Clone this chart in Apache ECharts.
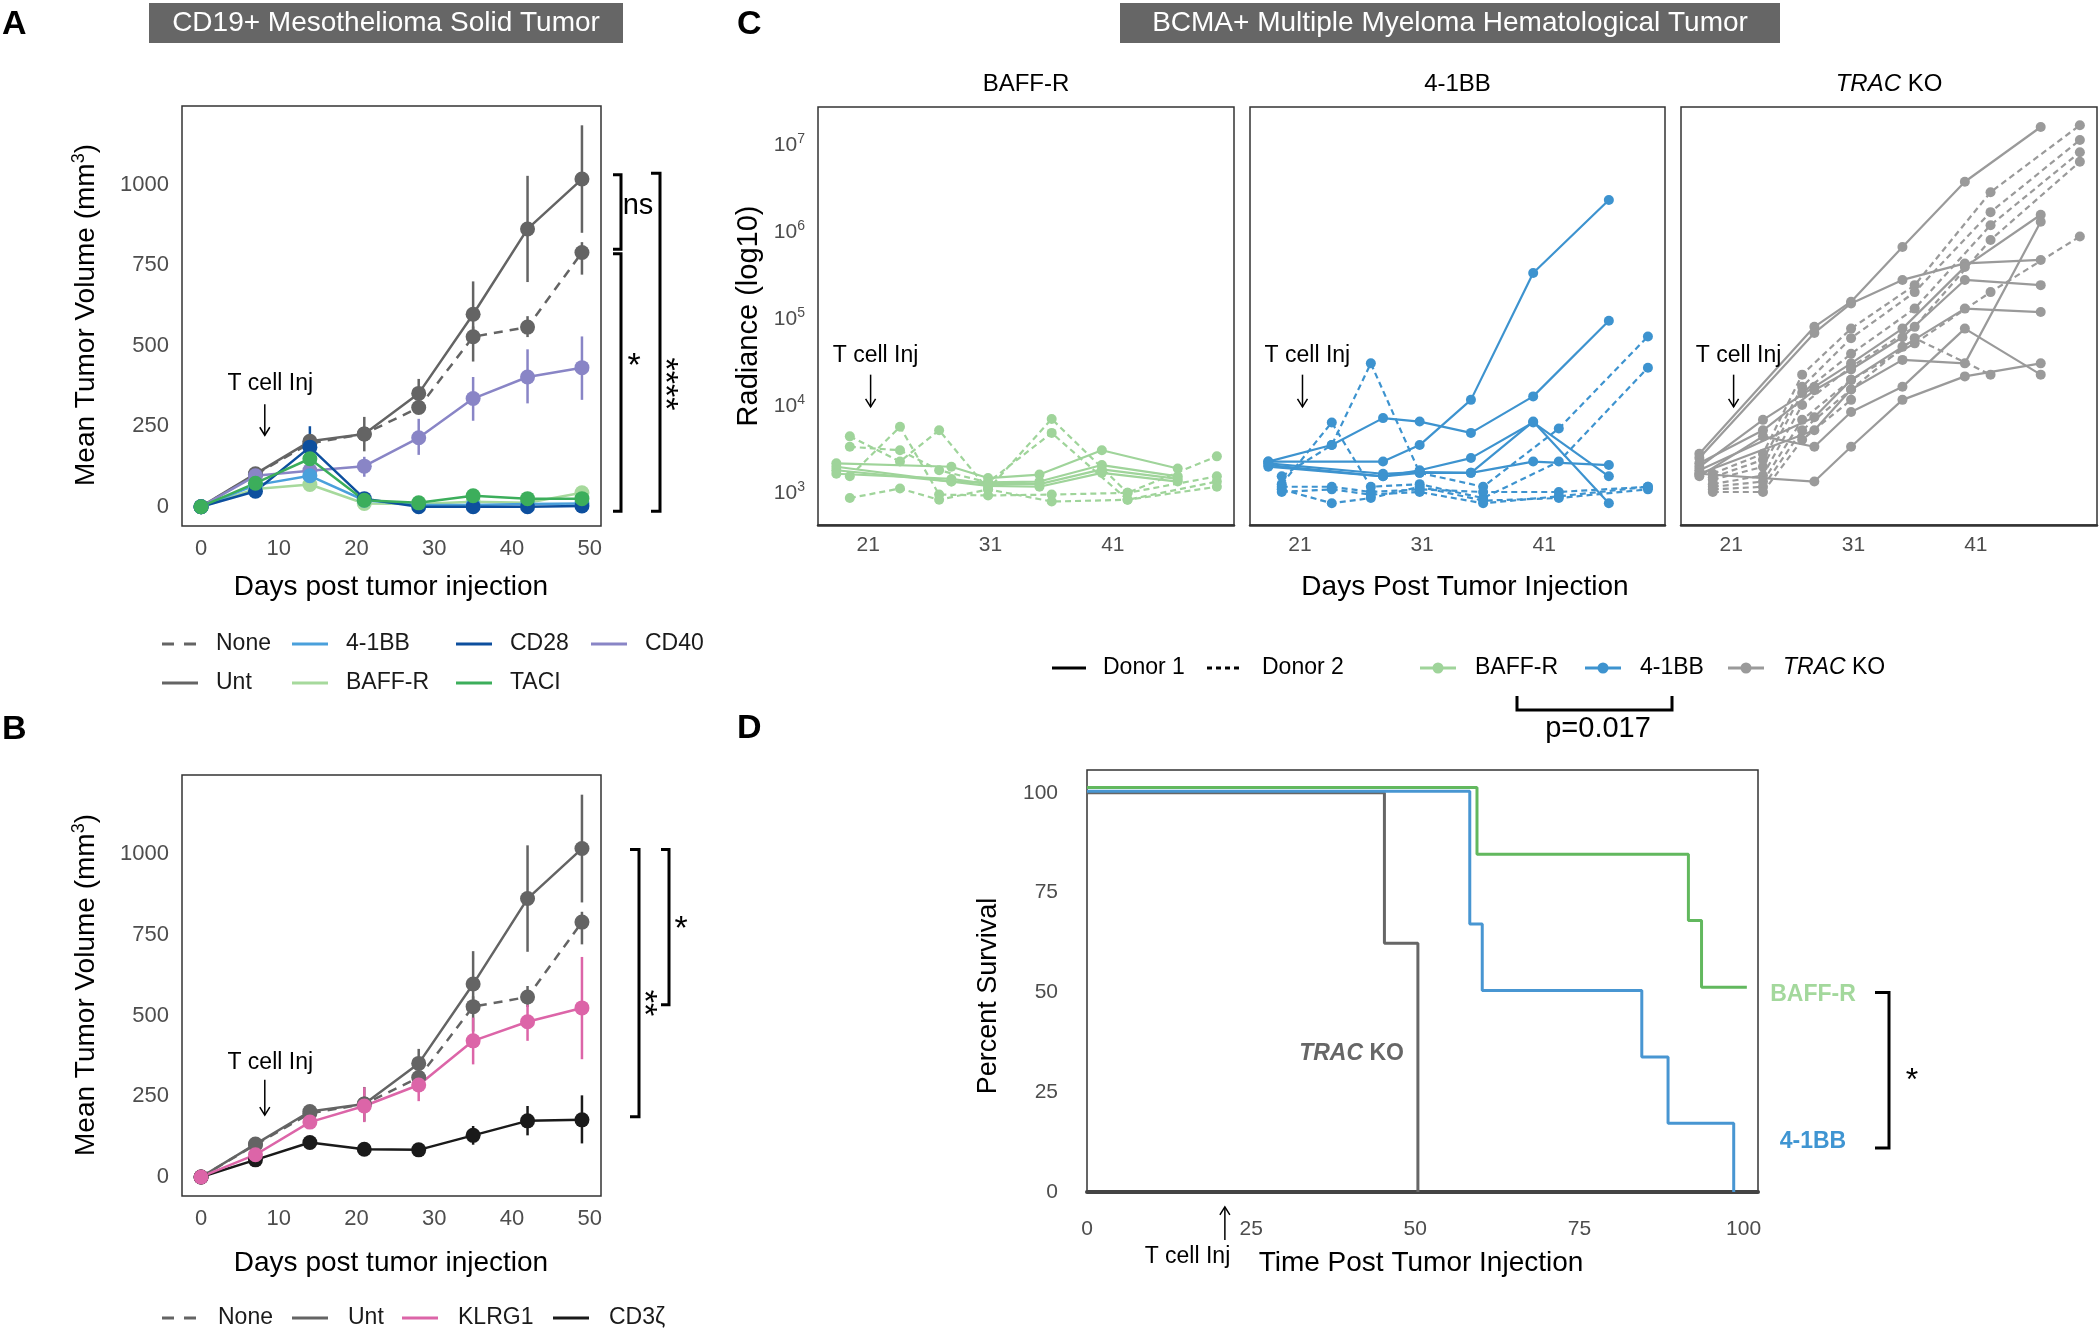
<!DOCTYPE html>
<html><head><meta charset="utf-8">
<script src="https://cdn.jsdelivr.net/npm/echarts@6/dist/echarts.min.js"></script>
<style>html,body{margin:0;padding:0;background:#fff}#c{width:2100px;height:1331px}</style>
</head><body><div id="c"></div>
<script>
const FONT = '"Liberation Sans", Arial, Helvetica, sans-serif';
const TICK = '#4d4d4d';

// ---------- Panels A & B : mean tumor volume ----------
const tumorDays = [0, 7, 14, 21, 28, 35, 42, 49];
const untMean  = [0, 102, 203, 226, 352, 598, 863, 1018];
const untLo    = [0, 94, 191, 172, 318, 505, 698, 851];
const untHi    = [0, 110, 215, 279, 397, 700, 1028, 1185];
const noneMean = [0, 100, 197, 226, 308, 528, 558, 790];
const noneLo   = [0, 92, 186, 205, 288, 451, 527, 721];
const noneHi   = [0, 108, 208, 247, 330, 560, 592, 822];
const cd40Mean = [0, 96, 112, 126, 214, 336, 403, 432];
const cd40Lo   = [0, 88, 100, 93, 161, 267, 321, 332];
const cd40Hi   = [0, 104, 124, 155, 273, 403, 489, 529];
const bb41Mean = [0, 67, 96, 20, 5, 5, 8, 10];
const bb41Lo   = [0, 60, 82, 12, 0, 0, 2, 4];
const bb41Hi   = [0, 74, 110, 28, 10, 10, 14, 16];
const cd28Mean = [0, 48, 185, 25, 0, 0, 0, 2];
const cd28Lo   = [0, 40, 120, 15, -5, -5, -5, -3];
const cd28Hi   = [0, 56, 250, 35, 5, 5, 5, 7];
const baffAMean = [0, 55, 69, 10, 8, 15, 12, 43];
const baffALo   = [0, 48, 58, 4, 2, 8, 6, 30];
const baffAHi   = [0, 62, 80, 16, 14, 22, 18, 56];
const taciMean = [0, 73, 149, 20, 12, 34, 25, 25];
const taciLo   = [0, 66, 135, 12, 5, 25, 17, 15];
const taciHi   = [0, 80, 163, 28, 19, 43, 33, 35];
const klrgMean = [0, 69, 170, 220, 285, 422, 481, 524];
const klrgLo   = [0, 62, 158, 170, 235, 349, 422, 365];
const klrgHi   = [0, 76, 182, 278, 336, 494, 534, 682];
const cd3zMean = [0, 53, 107, 86, 84, 129, 174, 177];
const cd3zLo   = [0, 48, 98, 78, 76, 100, 129, 104];
const cd3zHi   = [0, 58, 116, 94, 92, 158, 220, 253];
const tumorYTicks = [0, 250, 500, 750, 1000];
const tumorXTicks = [0, 10, 20, 30, 40, 50];

// ---------- Panel C : radiance (log10) per mouse ----------
const cDaysDonor1 = [18.4, 23.6, 27.8, 30.8, 35.0, 40.1, 46.3];
const cDaysDonor2 = [19.5, 23.6, 26.8, 30.8, 36.0, 42.2, 49.5];
const baffDonor1 = [
  [3.34, null, 3.30, 3.17, 3.21, 3.49, 3.28],
  [3.30, null, 3.13, 3.12, 3.13, 3.32, 3.19],
  [3.26, null, 3.13, 3.08, 3.07, 3.23, 3.13],
  [3.22, null, 3.16, 3.10, 3.10, 3.27, 3.16]
];
const baffDonor2 = [
  [3.65, 3.36, 3.72, 3.04, 3.85, 3.00, 3.19],
  [3.53, 3.49, 3.26, 3.12, 3.69, 2.92, 3.13],
  [3.19, 3.76, 2.98, 2.97, 2.98, 3.00, 3.42],
  [2.94, 3.05, 2.92, 3.04, 2.90, 2.92, 3.07]
];
const bbDonor1 = [
  [3.36, 3.55, 3.86, 3.82, 3.69, 4.11, 4.98],
  [3.36, null, 3.36, 3.55, 4.07, 5.53, 6.37],
  [3.32, null, 3.19, 3.26, 3.40, 3.81, 3.19],
  [3.30, null, 3.19, 3.23, 3.23, 3.36, 3.32],
  [3.34, null, 3.22, 3.24, 3.23, 3.82, 2.88]
];
const bbDonor2 = [
  [3.19, 3.55, 4.49, 3.23, 3.07, 3.74, 4.80],
  [3.10, 3.81, 3.07, 3.10, 2.94, 3.36, 4.44],
  [3.07, 3.07, 3.01, 3.04, 3.01, 3.01, 3.07],
  [3.04, 2.88, 2.94, 3.07, 2.91, 2.94, 3.04],
  [3.01, 3.04, 2.98, 3.01, 2.88, 2.96, 3.07]
];
const tracDonor1 = [
  [3.45, null, 4.91, 5.20, 5.83, 6.58, 7.21],
  [3.40, null, 4.84, 5.18, 5.45, 5.64, 5.68],
  [3.30, 3.84, 4.22, 4.49, 4.89, 5.60, 6.20],
  [3.34, 3.72, 4.18, 4.42, 4.79, 5.45, 5.39],
  [3.26, null, 3.87, 4.30, 4.68, 5.12, 5.08],
  [3.22, null, 3.72, 4.19, 4.53, 4.49, 6.12],
  [3.22, null, 3.13, 3.53, 4.07, 4.34, 4.49],
  [3.19, 3.65, 3.53, 3.93, 4.22, 4.89, 4.36]
];
const tracDonor2 = [
  [3.22, 3.45, 4.36, 4.89, 5.39, 6.46, 7.23],
  [3.18, 3.38, 4.22, 4.78, 5.31, 6.23, 7.06],
  [3.15, 3.30, 4.15, 4.60, 5.12, 6.08, 6.92],
  [3.10, 3.20, 4.01, 4.45, 4.91, 5.91, 6.81],
  [3.07, 3.13, 3.84, 4.30, 4.72, 5.31, 5.95],
  [3.04, 3.07, 3.72, 4.19, 4.78, 4.36, null],
  [3.01, 3.01, 3.61, 4.07, null, null, null]
];
const cYTicks = [3, 4, 5, 6, 7];
const cXTicks = [21, 31, 41];

// ---------- Panel D : survival ----------
const survBaffT = [0, 59.4, 91.6, 93.6, 100.5];
const survBaffS = [101.3, 84.6, 68.0, 51.3, 51.3];
const survBbT   = [0, 58.3, 60.2, 84.5, 88.5, 98.5];
const survBbS   = [100.4, 67.1, 50.5, 33.8, 17.2, 0];
const survTracT = [0, 45.3, 50.4];
const survTracS = [100, 62.3, 0];
const survTicks = [0, 25, 50, 75, 100];

const C_GREY = '#646464', C_CD40 = '#8985c6', C_BB = '#4aa0db', C_CD28 = '#0d4f9e',
      C_BAFF = '#a6d99c', C_TACI = '#3cae5b', C_KLRG = '#dc65a8', C_CD3Z = '#1a1a1a';
const CC_BAFF = '#9fd49a', CC_BB = '#3d93cf', CC_TRAC = '#9a9a9a';

const chart = echarts.init(document.getElementById('c'), null, {width: 2100, height: 1331});

function gridBox(left, top, width, height) {
  return {left, top, width, height, show: true, borderColor: '#333', borderWidth: 1.5, backgroundColor: 'transparent'};
}
const grid = [
  gridBox(182, 106, 419, 420),
  gridBox(182, 775, 419, 421),
  gridBox(818, 107, 416, 418),
  gridBox(1250, 107, 415, 418),
  gridBox(1681, 107, 416, 418),
  gridBox(1087, 770, 671, 422)
];
function axis(g, min, max, ticks, size, margin, extra) {
  const a = {
    type: 'value', gridIndex: g, min, max,
    axisLine: {show: false}, axisTick: {show: false}, splitLine: {show: false},
    axisLabel: {customValues: ticks, fontSize: size, color: TICK, fontFamily: FONT, margin, formatter: v => String(v)}
  };
  return Object.assign(a, extra || {});
}
const supFmt = v => '{b|10}{s|' + Math.round(v) + '}';
const supRich = {
  b: {fontSize: 21, color: TICK, fontFamily: FONT, lineHeight: 26},
  s: {fontSize: 14, color: TICK, fontFamily: FONT, verticalAlign: 'top', lineHeight: 14}
};
const xAxis = [
  axis(0, -2.45, 51.45, tumorXTicks, 22, 12),
  axis(1, -2.45, 51.45, tumorXTicks, 22, 12),
  axis(2, 16.9, 50.9, cXTicks, 21, 10, {axisLine: {show: true, lineStyle: {color: '#333', width: 2.5}}}),
  axis(3, 16.9, 50.9, cXTicks, 21, 10, {axisLine: {show: true, lineStyle: {color: '#333', width: 2.5}}}),
  axis(4, 16.9, 50.9, cXTicks, 21, 10, {axisLine: {show: true, lineStyle: {color: '#333', width: 2.5}}}),
  axis(5, 0, 102.2, survTicks, 21, 27, {axisLine: {show: true, onZero: false, lineStyle: {color: '#444', width: 4}}})
];
const yAxis = [
  axis(0, -60, 1245, tumorYTicks, 22, 13),
  axis(1, -59, 1246, tumorYTicks, 22, 13),
  axis(2, 2.63, 7.44, cYTicks, 21, 13),
  axis(3, 2.63, 7.44, cYTicks, 21, 13),
  axis(4, 2.63, 7.44, cYTicks, 21, 13),
  axis(5, 0, 105.7, survTicks, 21, 29)
];
yAxis[2].axisLabel.formatter = supFmt; yAxis[2].axisLabel.rich = supRich;
yAxis[3].axisLabel.show = false; yAxis[4].axisLabel.show = false;

const series = [];
function errSeries(g, lo, hi, color) {
  series.push({
    type: 'custom', xAxisIndex: g, yAxisIndex: g, coordinateSystem: 'cartesian2d', silent: true, z: 2,
    data: tumorDays.map((d, i) => [d, lo[i], hi[i]]),
    encode: {x: 0, y: [1, 2]},
    renderItem: (params, api) => {
      const a = api.coord([api.value(0), api.value(1)]);
      const b = api.coord([api.value(0), api.value(2)]);
      return {type: 'line', shape: {x1: a[0], y1: a[1], x2: b[0], y2: b[1]}, style: {stroke: color, lineWidth: 2.5}};
    }
  });
}
function meanSeries(g, name, mean, lo, hi, color, dashed) {
  errSeries(g, lo, hi, color);
  series.push({
    type: 'line', name, xAxisIndex: g, yAxisIndex: g, z: 3,
    data: tumorDays.map((d, i) => [d, mean[i]]),
    symbol: 'circle', symbolSize: 15, showSymbol: true,
    lineStyle: {color, width: 2.5, type: dashed ? [9, 7] : 'solid'},
    itemStyle: {color}
  });
}
meanSeries(0, 'None', noneMean, noneLo, noneHi, C_GREY, true);
meanSeries(0, 'Unt', untMean, untLo, untHi, C_GREY, false);
meanSeries(0, 'CD40', cd40Mean, cd40Lo, cd40Hi, C_CD40, false);
meanSeries(0, 'BAFF-R', baffAMean, baffALo, baffAHi, C_BAFF, false);
meanSeries(0, '4-1BB', bb41Mean, bb41Lo, bb41Hi, C_BB, false);
meanSeries(0, 'CD28', cd28Mean, cd28Lo, cd28Hi, C_CD28, false);
meanSeries(0, 'TACI', taciMean, taciLo, taciHi, C_TACI, false);
meanSeries(1, 'None', noneMean, noneLo, noneHi, C_GREY, true);
meanSeries(1, 'Unt', untMean, untLo, untHi, C_GREY, false);
meanSeries(1, 'CD3ζ', cd3zMean, cd3zLo, cd3zHi, C_CD3Z, false);
meanSeries(1, 'KLRG1', klrgMean, klrgLo, klrgHi, C_KLRG, false);

function mouseSeries(g, days, mice, color, dashed) {
  mice.forEach(vals => {
    series.push({
      type: 'line', xAxisIndex: g, yAxisIndex: g, z: 3,
      data: days.map((d, i) => [d, vals[i]]).filter(p => p[1] !== null),
      symbol: 'circle', symbolSize: 10,
      lineStyle: {color, width: 2.2, type: dashed ? [6, 4] : 'solid'},
      itemStyle: {color}
    });
  });
}
mouseSeries(2, cDaysDonor2, baffDonor2, CC_BAFF, true);
mouseSeries(2, cDaysDonor1, baffDonor1, CC_BAFF, false);
mouseSeries(3, cDaysDonor2, bbDonor2, CC_BB, true);
mouseSeries(3, cDaysDonor1, bbDonor1, CC_BB, false);
mouseSeries(4, cDaysDonor2, tracDonor2, CC_TRAC, true);
mouseSeries(4, cDaysDonor1, tracDonor1, CC_TRAC, false);

function survSeries(t, s, color) {
  series.push({
    type: 'line', xAxisIndex: 5, yAxisIndex: 5, step: 'end', symbol: 'none', z: 3,
    data: t.map((x, i) => [x, s[i]]),
    lineStyle: {color, width: 3}
  });
}
survSeries(survTracT, survTracS, '#666666');
survSeries(survBbT, survBbS, '#4896d2');
survSeries(survBaffT, survBaffS, '#62b85e');

chart.setOption({animation: false, backgroundColor: '#fff', grid, xAxis, yAxis, series});

// ---------- annotations ----------
const px = (g, x, y) => chart.convertToPixel({gridIndex: g}, [x, y]);
const G = [];
function T(x, y, text, size, o) {
  o = o || {};
  const st = {
    text, fontSize: size, fontFamily: FONT, fontWeight: o.weight || 'normal', fontStyle: o.style || 'normal',
    fill: o.color || '#000', align: o.align || 'center', verticalAlign: o.valign || 'middle',
    textAlign: o.align || 'center', textVerticalAlign: o.valign || 'middle'
  };
  if (o.rich) st.rich = o.rich;
  G.push({type: 'text', x, y, rotation: o.rot || 0, z: 100, style: st});
}
function L(x1, y1, x2, y2, color, w, dash) {
  G.push({type: 'line', z: 100, shape: {x1, y1, x2, y2}, style: {stroke: color, lineWidth: w, lineDash: dash || null}});
}
function P(points, color, w) {
  G.push({type: 'polyline', z: 100, shape: {points}, style: {stroke: color, lineWidth: w, fill: null}});
}
function arrowDown(x, y1, y2) { L(x, y1, x, y2, '#000', 1.5); P([[x - 5, y2 - 8], [x, y2], [x + 5, y2 - 8]], '#000', 1.5); }
function arrowUp(x, y1, y2) { L(x, y1, x, y2, '#000', 1.5); P([[x - 5, y1 + 8], [x, y1], [x + 5, y1 + 8]], '#000', 1.5); }
function bracket(xv, xt, yTop, yBot) { P([[xt, yTop], [xv, yTop], [xv, yBot], [xt, yBot]], '#000', 3); }

// panel letters
T(2, 25, 'A', 34, {weight: 'bold', align: 'left'});
T(2, 730, 'B', 34, {weight: 'bold', align: 'left'});
T(737, 25, 'C', 34, {weight: 'bold', align: 'left'});
T(737, 729, 'D', 34, {weight: 'bold', align: 'left'});

// title boxes
G.push({type: 'rect', z: 90, shape: {x: 149, y: 3, width: 474, height: 40}, style: {fill: '#666666'}});
T(386, 23, 'CD19+ Mesothelioma Solid Tumor', 28, {color: '#fff'});
G.push({type: 'rect', z: 90, shape: {x: 1120, y: 3, width: 660, height: 40}, style: {fill: '#666666'}});
T(1450, 23, 'BCMA+ Multiple Myeloma Hematological Tumor', 28, {color: '#fff'});

// axis titles
const mmRich = {
  a: {fontSize: 28, fontFamily: FONT, fill: '#000', color: '#000', lineHeight: 32},
  s: {fontSize: 18, fontFamily: FONT, fill: '#000', color: '#000', verticalAlign: 'top', lineHeight: 18}
};
T(86, 315, '{a|Mean Tumor Volume (mm}{s|3}{a|)}', 28, {rot: Math.PI / 2, rich: mmRich});
T(86, 985, '{a|Mean Tumor Volume (mm}{s|3}{a|)}', 28, {rot: Math.PI / 2, rich: mmRich});
T(391, 587, 'Days post tumor injection', 28);
T(391, 1263, 'Days post tumor injection', 28);
T(749, 316, 'Radiance (log10)', 29, {rot: Math.PI / 2});
T(1465, 587, 'Days Post Tumor Injection', 28);
T(989, 996, 'Percent Survival', 27, {rot: Math.PI / 2});
T(1421, 1263, 'Time Post Tumor Injection', 28);

// facet strips
const itRich = {i: {fontStyle: 'italic', fontSize: 23, fontFamily: FONT, fill: '#000', color: '#000'}};
T(1026, 84, 'BAFF-R', 24);
T(1457.5, 84, '4-1BB', 24);
T(1889, 84, '{i|TRAC} KO', 24, {rich: {i: {fontStyle: 'italic', fontSize: 24, fontFamily: FONT, fill: '#000', color: '#000'}}});

// T cell Inj annotations
let p, q;
p = px(0, 8.9, 381); T(p[0], p[1], 'T cell Inj', 23);
p = px(0, 8.2, 318); q = px(0, 8.2, 222); arrowDown(p[0], p[1], q[1]);
p = px(1, 8.9, 353); T(p[0], p[1], 'T cell Inj', 23);
p = px(1, 8.2, 301); q = px(1, 8.2, 192); arrowDown(p[0], p[1], q[1]);
for (const g of [2, 3, 4]) {
  p = px(g, 21.6, 4.58); T(p[0], p[1], 'T cell Inj', 23);
  p = px(g, 21.2, 4.36); q = px(g, 21.2, 3.99); arrowDown(p[0], p[1], q[1]);
}
p = px(5, 15.3, -16.3); T(p[0], p[1], 'T cell Inj', 23);
p = px(5, 21, -3.75); q = px(5, 21, -12); arrowUp(p[0], p[1], q[1]);

// significance brackets A
p = px(0, 0, 1031); q = px(0, 0, 800); bracket(621, 613, p[1], q[1]);
T(638, (p[1] + q[1]) / 2 - 6, 'ns', 29);
p = px(0, 0, 786); q = px(0, 0, -14); bracket(621, 613, p[1], q[1]);
T(634, 367, '*', 34);
p = px(0, 0, 1036); q = px(0, 0, -14); bracket(660, 651, p[1], q[1]);
T(664, 384, '****', 34, {rot: -Math.PI / 2});
// significance brackets B
p = px(1, 0, 1015); q = px(1, 0, 187); bracket(639, 630, p[1], q[1]);
T(643, 1003, '**', 34, {rot: -Math.PI / 2});
p = px(1, 0, 1015); q = px(1, 0, 534); bracket(669, 661, p[1], q[1]);
T(681, 930, '*', 34);

// legend A
const legA = [
  [162, 644, 'None', C_GREY, true], [292, 644, '4-1BB', C_BB], [456, 644, 'CD28', C_CD28], [591, 644, 'CD40', C_CD40],
  [162, 683, 'Unt', C_GREY], [292, 683, 'BAFF-R', C_BAFF], [456, 683, 'TACI', C_TACI]
];
legA.forEach(([x, y, t, c, d]) => {
  L(x, y, x + 36, y, c, 3, d ? [12, 10] : null);
  T(x + 54, y, t, 23, {align: 'left', color: '#1a1a1a'});
});
const legB = [
  [162, 1318, 'None', C_GREY, true], [292, 1318, 'Unt', C_GREY], [402, 1318, 'KLRG1', C_KLRG], [553, 1318, 'CD3ζ', C_CD3Z]
];
legB.forEach(([x, y, t, c, d]) => {
  L(x, y, x + 36, y, c, 3, d ? [12, 10] : null);
  T(x + 56, y, t, 23, {align: 'left', color: '#1a1a1a'});
});

// legend C
L(1052, 668, 1086, 668, '#000', 3);
T(1103, 668, 'Donor 1', 23, {align: 'left'});
L(1207, 668, 1242, 668, '#000', 3, [5, 4]);
T(1262, 668, 'Donor 2', 23, {align: 'left'});
[[1420, CC_BAFF, 'BAFF-R'], [1585, CC_BB, '4-1BB'], [1728, CC_TRAC, '{i|TRAC} KO']].forEach(([x, c, t]) => {
  L(x, 668, x + 36, 668, c, 3);
  G.push({type: 'circle', z: 101, shape: {cx: x + 18, cy: 668, r: 5.5}, style: {fill: c}});
  T(x + 55, 668, t, 23, {align: 'left', rich: itRich});
});
P([[1517, 696], [1517, 710], [1672, 710], [1672, 696]], '#000', 3);
T(1598, 729, 'p=0.017', 29);

// panel D labels
p = px(5, 0, 49.4); T(1813, p[1], 'BAFF-R', 23, {weight: 'bold', color: '#a3d89c'});
p = px(5, 0, 12.7); T(1813, p[1], '4-1BB', 23, {weight: 'bold', color: '#3f95d2'});
p = px(5, 0, 50.0); q = px(5, 0, 11.0); bracket(1889, 1875, p[1], q[1]);
p = px(5, 0, 29.7); T(1912, p[1] + 8, '*', 32);
p = px(5, 40.3, 34.7);
T(p[0], p[1], '{i|TRAC} KO', 23, {weight: 'bold', color: '#666666', rich: {i: {fontStyle: 'italic', fontWeight: 'bold', fontSize: 23, fontFamily: FONT, fill: '#666666', color: '#666666'}}});

chart.setOption({graphic: {elements: G}});
</script></body></html>
